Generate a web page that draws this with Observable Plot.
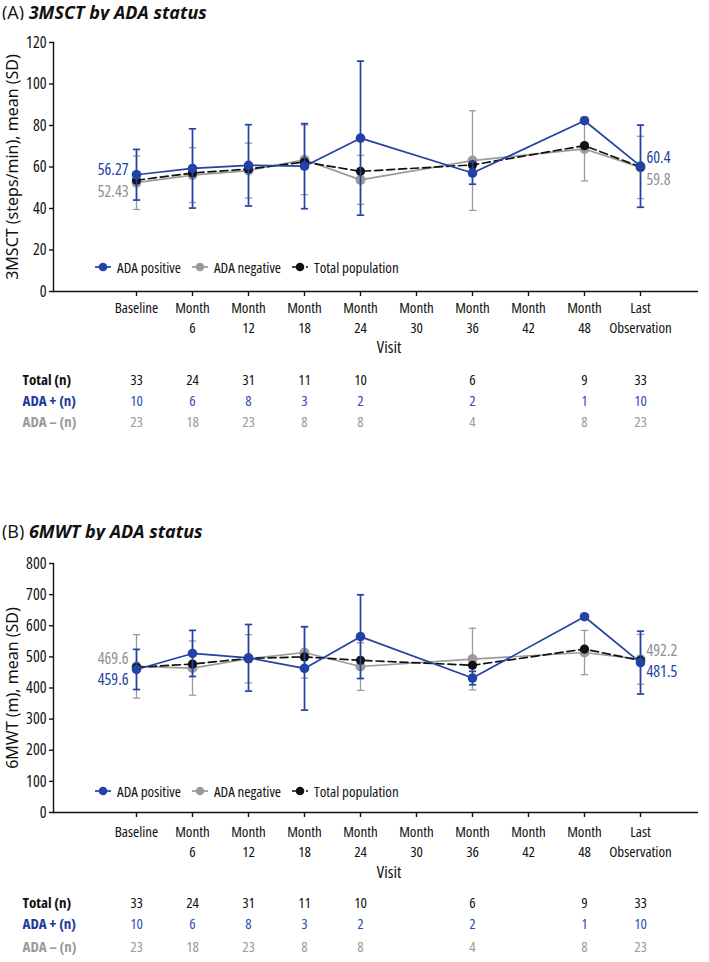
<!DOCTYPE html>
<html>
<head>
<meta charset="utf-8">
<script src="https://cdn.jsdelivr.net/npm/d3@7"></script>
<script src="https://cdn.jsdelivr.net/npm/@observablehq/plot@0.6"></script>
<style>
  body { margin: 0; width: 709px; height: 962px; position: relative; background: #fff; overflow: hidden;
         font-family: "Open Sans", sans-serif; font-stretch: 80%; color: #111; }
  .title { position: absolute; left: 2px; font-size: 18px; line-height: 22px; white-space: nowrap; font-stretch: 90%; }
  .title b { font-weight: bold; font-style: italic; }
  .legend { position: absolute; left: 95px; display: flex; align-items: center; font-size: 15px; line-height: 18px; white-space: nowrap; font-stretch: 78%; }
  .legend .item { display: flex; align-items: center; margin-right: 11px; }
  .legend svg { margin-right: 6px; }
  .chart { position: absolute; left: 0; }
</style>
</head>
<body>
<div class="title" style="top:1px">(A) <b>3MSCT by ADA status</b></div>
<div class="chart" id="chartA" style="top:20px"></div>
<div class="legend" id="legendA" style="top:258px"></div>

<div class="title" style="top:520px">(B) <b>6MWT by ADA status</b></div>
<div class="chart" id="chartB" style="top:540px"></div>
<div class="legend" id="legendB" style="top:782px"></div>

<script>
// ---- Data ----
const visits = ["Baseline", "Month 6", "Month 12", "Month 18", "Month 24", "Month 30", "Month 36", "Month 42", "Month 48", "Last Observation"];
const tickLabels = ["Baseline", "Month\n6", "Month\n12", "Month\n18", "Month\n24", "Month\n30", "Month\n36", "Month\n42", "Month\n48", "Last\nObservation"];
const seriesNames = ["ADA positive", "ADA negative", "Total population"];

const nTotal = [33, 24, 31, 11, 10, null, 6, null, 9, 33];
const nPos   = [10, 6, 8, 3, 2, null, 2, null, 1, 10];
const nNeg   = [23, 18, 23, 8, 8, null, 4, null, 8, 23];

// 3MSCT (steps/min)
const msctPosMean = [56.27, 59.3, 60.8, 60.4, 73.9, null, 57.1, null, 82.3, 60.4];
const msctPosSD   = [12.2, 19.1, 19.6, 20.5, 37.1, null, 5.4, null, null, 19.8];
const msctNegMean = [52.43, 56.1, 58.3, 63.5, 53.8, null, 63.1, null, 68.7, 59.8];
const msctNegSD   = [12.9, 13.2, 13.2, 16.8, 11.8, null, 24.0, null, 15.4, 15.0];
const msctTotMean = [53.6, 57.1, 59.0, 62.4, 57.9, null, 61.0, null, 70.3, 60.0];

// 6MWT (m)
const mwtPosMean = [459.6, 511, 497, 463, 565, null, 432, null, 629, 481.5];
const mwtPosSD   = [64.5, 74, 107, 134, 134.5, null, 21.5, null, null, 101];
const mwtNegMean = [469.6, 464, 494, 514, 469, null, 493, null, 514, 492.2];
const mwtNegSD   = [102, 87, 77.5, 82, 76.5, null, 99, null, 71, 80];
const mwtTotMean = [466.7, 477, 495, 500, 489, null, 473, null, 525, 488.5];

// ---- Styling ----
const BLUE = "#2242a5";
const GRAY = "#9b9b9b";
const BLACK = "#111111";
const FONT = '"Open Sans", sans-serif';

const capSymbol = {
  draw(context, size) {
    const r = Math.sqrt(size / Math.PI);
    context.moveTo(-r, 0);
    context.lineTo(r, 0);
  }
};

function rowsOf(mean, sd) {
  return visits.map((v, i) => ({visit: v, m: mean[i], sd: sd ? sd[i] : null})).filter(d => d.m != null);
}

function errorMarks(rows, color, w) {
  const e = rows.filter(d => d.sd != null);
  return [
    Plot.ruleX(e, {x: "visit", y1: d => d.m - d.sd, y2: d => d.m + d.sd, stroke: color, strokeWidth: w}),
    Plot.dot(e, {x: "visit", y: d => d.m + d.sd, symbol: capSymbol, r: 3.6, stroke: color, fill: "none", strokeWidth: w}),
    Plot.dot(e, {x: "visit", y: d => d.m - d.sd, symbol: capSymbol, r: 3.6, stroke: color, fill: "none", strokeWidth: w})
  ];
}

function makePanel(cfg) {
  const pos = rowsOf(cfg.posMean, cfg.posSD);
  const neg = rowsOf(cfg.negMean, cfg.negSD);
  const tot = rowsOf(cfg.totMean, null);
  const first = 0, last = visits.length - 1;

  const table = [
    {label: "Total (n)", n: nTotal, color: "#111", labelColor: "#111", dy: cfg.rowDy[0]},
    {label: "ADA + (n)", n: nPos, color: "#2f4fb5", labelColor: "#1d3a9c", dy: cfg.rowDy[1]},
    {label: "ADA \u2013 (n)", n: nNeg, color: "#9a9a9a", labelColor: "#9a9a9a", dy: cfg.rowDy[2]}
  ];

  return Plot.plot({
    width: 709,
    height: cfg.height,
    marginTop: cfg.marginTop,
    marginLeft: 53,
    marginRight: 11,
    marginBottom: 150,
    style: {fontFamily: FONT, fontStretch: "80%", fontSize: "15px", color: "#111", background: "white", overflow: "visible"},
    x: {type: "point", domain: visits, insetLeft: 55, insetRight: 30, axis: null},
    y: {domain: cfg.yDomain, axis: null},
    marks: [
      Plot.axisY({ticks: cfg.yTicks, tickSize: 4, tickPadding: 3, label: null, fontSize: 16, strokeWidth: 1.4}),
      Plot.axisX({tickFormat: d => tickLabels[visits.indexOf(d)], tickSize: 5, tickPadding: cfg.tickPad, label: null, fontSize: 15, lineHeight: 1.3, strokeWidth: 1.4}),
      Plot.frame({anchor: "left", strokeWidth: 1.4}),
      Plot.ruleY([cfg.yDomain[0]], {strokeWidth: 1.4}),
      // ADA negative
      ...errorMarks(neg, GRAY, 1.3),
      Plot.line(neg, {x: "visit", y: "m", stroke: GRAY, strokeWidth: 1.7}),
      Plot.dot(neg, {x: "visit", y: "m", r: 5, fill: GRAY}),
      // Total
      Plot.line(tot, {x: "visit", y: "m", stroke: BLACK, strokeWidth: 1.7, strokeDasharray: "8,4"}),
      Plot.dot(tot, {x: "visit", y: "m", r: 4.6, fill: BLACK}),
      // ADA positive
      ...errorMarks(pos, BLUE, 1.7),
      Plot.line(pos, {x: "visit", y: "m", stroke: BLUE, strokeWidth: 1.7}),
      Plot.dot(pos, {x: "visit", y: "m", r: 4.8, fill: BLUE}),
      // value annotations
      Plot.text([{visit: visits[first], m: cfg.posMean[first]}], {x: "visit", y: "m", text: d => String(d.m), textAnchor: "end", dx: -8, dy: cfg.annFirst[0], fill: BLUE, fontSize: 16}),
      Plot.text([{visit: visits[first], m: cfg.negMean[first]}], {x: "visit", y: "m", text: d => String(d.m), textAnchor: "end", dx: -8, dy: cfg.annFirst[1], fill: "#8f8f8f", fontSize: 16}),
      Plot.text([{visit: visits[last], m: cfg.posMean[last]}], {x: "visit", y: "m", text: d => String(d.m), textAnchor: "start", dx: 6, dy: cfg.annLast[0], fill: BLUE, fontSize: 16}),
      Plot.text([{visit: visits[last], m: cfg.negMean[last]}], {x: "visit", y: "m", text: d => String(d.m), textAnchor: "start", dx: 6, dy: cfg.annLast[1], fill: "#8f8f8f", fontSize: 16}),
      // axis titles
      Plot.text([cfg.yLabel], {text: d => d, frameAnchor: "left", textAnchor: "middle", rotate: -90, dx: -41, dy: 0, fontSize: 16, fontFamily: '"Noto Sans", sans-serif'}),
      Plot.text(["Visit"], {text: d => d, frameAnchor: "bottom", textAnchor: "middle", dx: 13, dy: cfg.visitDy, fontSize: 17}),
      // n table
      ...table.flatMap(r => [
        Plot.text(visits.map((v, i) => ({visit: v, n: r.n[i]})).filter(d => d.n != null),
          {x: "visit", text: d => String(d.n), frameAnchor: "bottom", dy: r.dy, fill: r.color, fontSize: 15}),
        Plot.text([r.label], {text: d => d, frameAnchor: "bottom-left", textAnchor: "start", dx: -31, dy: r.dy, fill: r.labelColor, fontWeight: "bold", fontSize: 15})
      ])
    ]
  });
}

function makeLegend(el) {
  const specs = [
    {name: seriesNames[0], color: BLUE, dash: null},
    {name: seriesNames[1], color: GRAY, dash: null},
    {name: seriesNames[2], color: BLACK, dash: "4,3"}
  ];
  for (const s of specs) {
    const item = document.createElement("div");
    item.className = "item";
    item.innerHTML = `<svg width="16" height="12"><line x1="0" x2="16" y1="6" y2="6" stroke="${s.color}" stroke-width="1.7" ${s.dash ? `stroke-dasharray="${s.dash}"` : ""}/><circle cx="8" cy="6" r="4.3" fill="${s.color}"/></svg><span>${s.name}</span>`;
    el.appendChild(item);
  }
}

document.getElementById("chartA").appendChild(makePanel({
  height: 421, marginTop: 22,
  yDomain: [0, 120], yTicks: [0, 20, 40, 60, 80, 100, 120],
  posMean: msctPosMean, posSD: msctPosSD, negMean: msctNegMean, negSD: msctNegSD, totMean: msctTotMean,
  yLabel: "3MSCT (steps/min), mean (SD)",
  tickPad: 3, visitDy: 61, rowDy: [93, 114, 135],
  annFirst: [-5, 9], annLast: [-8, 12]
}));
document.getElementById("chartB").appendChild(makePanel({
  height: 422, marginTop: 23,
  yDomain: [0, 800], yTicks: [0, 100, 200, 300, 400, 500, 600, 700, 800],
  posMean: mwtPosMean, posSD: mwtPosSD, negMean: mwtNegMean, negSD: mwtNegSD, totMean: mwtTotMean,
  yLabel: "6MWT (m), mean (SD)",
  tickPad: 6, visitDy: 65, rowDy: [95, 116, 139],
  annFirst: [10, -7], annLast: [9, -8]
}));
makeLegend(document.getElementById("legendA"));
makeLegend(document.getElementById("legendB"));
</script>
</body>
</html>
